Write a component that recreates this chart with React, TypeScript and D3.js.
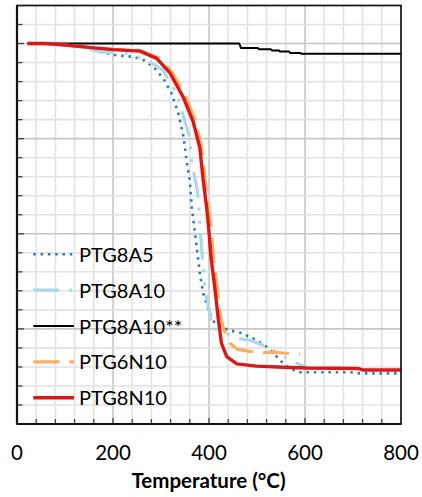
import React from 'react';
import * as d3 from 'd3';

// ---- data (weight % vs temperature °C) ----
const seriesNames = ['PTG8A5', 'PTG8A10', 'PTG8A10**', 'PTG6N10', 'PTG8N10'];
const seriesColors = ['#2c7bb6', '#abd9e9', '#000000', '#fdae61', '#d7191c'];

const ptg8a5Temp = [22, 60, 100, 138, 173, 204, 242, 263, 284, 305, 322, 336, 347, 353, 360, 364, 371, 381, 388, 402, 412, 440, 465, 492, 520, 541, 558, 576, 590, 694, 715, 800];
const ptg8a5Weight = [100, 100, 99.6, 99.2, 97.8, 97, 96.5, 95.7, 93.9, 90.8, 86.9, 81.7, 75.5, 69.4, 64, 57, 50, 39.6, 34.3, 29, 26.5, 24.7, 24, 22.5, 20.3, 17.7, 15.5, 14.2, 13.6, 13.6, 13.3, 13.3];

const ptg8a10Temp = [22, 60, 100, 138, 173, 228, 270, 304, 333, 347, 360, 364, 374, 378, 381, 385, 392, 402, 405, 420, 444, 465, 489, 525, 545, 564, 581, 602];
const ptg8a10Weight = [100, 100, 99.6, 99, 97.8, 97.4, 95.7, 93, 86.9, 80.8, 75, 69, 62.4, 58.9, 52, 45.7, 35, 29, 25.6, 24.5, 23.4, 22.4, 21.9, 20, 18.5, 17.2, 16, 15];

const ptg8a10ssTemp = [22, 463, 467, 502, 504, 529, 531, 546, 548, 567, 569, 590, 592, 800];
const ptg8a10ssWeight = [100, 100, 98.8, 98.8, 98.5, 98.5, 98.2, 98.2, 97.9, 97.9, 97.5, 97.5, 97.3, 97.3];

const ptg6n10Temp = [22, 60, 100, 150, 200, 256, 295, 323, 350, 371, 385, 392, 399, 404, 409, 416, 423, 430, 444, 460, 485, 510, 534, 560, 590];
const ptg6n10Weight = [100, 100, 99.6, 99, 98.5, 98.2, 96.3, 92.5, 86.5, 80, 72.5, 64, 57, 52, 44, 37, 29, 25, 21.2, 19.6, 19.1, 18.7, 18.9, 18.6, 18.3];

const ptg8n10Temp = [22, 60, 100, 150, 200, 256, 291, 319, 346, 367, 381, 388, 395, 399, 404, 412, 419, 426, 437, 458, 499, 555, 604, 710, 720, 800];
const ptg8n10Weight = [100, 100, 99.6, 99, 98.4, 98, 96.1, 92.2, 86, 79.5, 72.5, 64, 57, 52, 44, 36, 28, 21.2, 17.7, 15.8, 15.2, 14.9, 14.7, 14.6, 14.2, 14.2];

const xTickLabels = [0, 200, 400, 600, 800];
const xMinorTicks = d3.range(40, 800, 40);
const yMinorTicks = d3.range(5, 110, 5);
const yMajorTicks = [25, 50, 75, 100];
const xAxisTitle = 'Temperature (°C)';

const temps = [ptg8a5Temp, ptg8a10Temp, ptg8a10ssTemp, ptg6n10Temp, ptg8n10Temp];
const weights = [ptg8a5Weight, ptg8a10Weight, ptg8a10ssWeight, ptg6n10Weight, ptg8n10Weight];
const dashes = ['2.5 4.8', '26 10 3 10 3 10', undefined, '26 10', undefined];
const widths = [2.6, 3.2, 2, 3.2, 3.4];

const W = 422, H = 497;
const L = 17, R = 401, T = 5.5, B = 424;
const FONT = 'Lato, "Open Sans", sans-serif';

export default function App() {
  const x = d3.scaleLinear().domain([0, 800]).range([L, R]);
  const y = d3.scaleLinear().domain([0, 110]).range([B, T]);
  const line = d3.line<[number, number]>().x(d => x(d[0])).y(d => y(d[1]));

  const legendY0 = 254.3, legendStep = 35.85;

  return (
    <svg width={W} height={H} style={{ position: 'absolute', left: 0, top: 0, background: '#fff' }}>
      <rect x={0} y={0} width={W} height={H} fill="#fff" />
      {/* grid */}
      {xMinorTicks.map(t => (
        <line key={'gx' + t} x1={x(t)} x2={x(t)} y1={T} y2={B}
          stroke={t % 200 === 0 ? '#c6c6c6' : '#e2e2e2'} strokeWidth={1.6} />
      ))}
      {yMinorTicks.map(t => (
        <line key={'gy' + t} x1={L} x2={R} y1={y(t)} y2={y(t)}
          stroke={yMajorTicks.includes(t) ? '#c6c6c6' : '#e2e2e2'} strokeWidth={1.6} />
      ))}
      {/* ticks inside */}
      {xMinorTicks.map(t => (
        <line key={'tx' + t} x1={x(t)} x2={x(t)} y1={B} y2={B - (t % 200 === 0 ? 6 : 5)}
          stroke="#404040" strokeWidth={1.3} />
      ))}
      {yMinorTicks.map(t => (
        <line key={'ty' + t} x1={L} x2={L + (yMajorTicks.includes(t) ? 7 : 5.5)} y1={y(t)} y2={y(t)}
          stroke="#404040" strokeWidth={1.3} />
      ))}
      {/* series */}
      {temps.map((ts, i) => (
        <path key={'s' + i}
          d={line(ts.map((t, j) => [t, weights[i][j]] as [number, number])) || ''}
          fill="none" stroke={seriesColors[i]} strokeWidth={widths[i]}
          strokeDasharray={dashes[i]} strokeLinejoin="round" />
      ))}
      {/* frame */}
      <rect x={L} y={T} width={R - L} height={B - T} fill="none" stroke="#111" strokeWidth={1.7} />
      <line x1={L} x2={R} y1={B} y2={B} stroke="#111" strokeWidth={2.2} />
      <line x1={L} x2={L} y1={T} y2={B} stroke="#111" strokeWidth={2.2} />
      {/* x tick labels */}
      {xTickLabels.map(t => (
        <text key={'lx' + t} x={x(t)} y={460} textAnchor="middle" fontFamily={FONT} fontSize={20.5} fill="#000">{t}</text>
      ))}
      <text x={208.5} y={488} textAnchor="middle" fontFamily={FONT} fontSize={20.5} fontWeight="bold" fill="#000">{xAxisTitle}</text>
      {/* legend */}
      {seriesNames.map((n, i) => {
        const ly = legendY0 + i * legendStep;
        return (
          <g key={'lg' + i}>
            <line x1={33.3} x2={74} y1={ly} y2={ly} stroke={seriesColors[i]} strokeWidth={widths[i]} strokeDasharray={dashes[i]} />
            <text x={79} y={ly + 7.5} fontFamily={FONT} fontSize={20} fill="#000">{n}</text>
          </g>
        );
      })}
    </svg>
  );
}
